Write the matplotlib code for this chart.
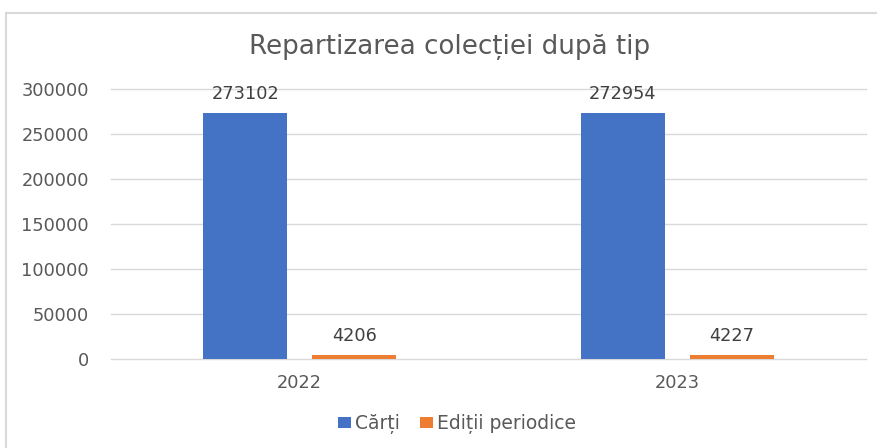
import matplotlib
matplotlib.use("Agg")
import matplotlib.pyplot as plt
from matplotlib.patches import Rectangle
import numpy as np

categories = ["2022", "2023"]
series_names = ["Cărți", "Ediții periodice"]
carti = [273102, 272954]
editii = [4206, 4227]
colors = ["#4472C4", "#ED7D31"]

plt.rcParams["font.family"] = ["DejaVu Sans"]
FS = 12.8

fig = plt.figure(figsize=(8.78, 4.48), dpi=100)
fig.patch.set_facecolor("white")
ax = fig.add_axes([111/878, 1-359/448, (866-111)/878, (359-89)/448])

x = np.arange(len(categories))
w = 0.223
off = 0.1446
b1 = ax.bar(x - off, carti, w, color=colors[0], label=series_names[0], zorder=3)
b2 = ax.bar(x + off, editii, w, color=colors[1], label=series_names[1], zorder=3)

for bars, vals in ((b1, carti), (b2, editii)):
    for r, v in zip(bars, vals):
        ax.annotate(str(v), (r.get_x() + r.get_width()/2, v), xytext=(0, 7.5),
                    textcoords="offset points", ha="center", va="bottom",
                    fontsize=FS, color="#404040")

ax.set_xlim(-0.5, 1.5)
ax.set_ylim(0, 300000)
ax.set_yticks(np.arange(0, 300001, 50000))
ax.set_yticklabels([str(v) for v in range(0, 300001, 50000)])
ax.set_xticks(x)
ax.set_xticklabels(categories)
ax.tick_params(axis="both", length=0, labelsize=FS, labelcolor="#595959")
ax.tick_params(axis="y", pad=16)
ax.tick_params(axis="x", pad=11)
ax.grid(axis="y", color="#d9d9d9", linewidth=1, zorder=0)
for gl in ax.get_ygridlines():
    gl.set_clip_on(False)
for s in ax.spines.values():
    s.set_visible(False)

fig.text(450/878, 1-47/448, "Repartizarea colecției după tip",
         ha="center", va="center", fontsize=18.8, color="#595959")

leg = fig.legend(loc="center", bbox_to_anchor=(457/878, 1-424/448), ncol=2,
                 frameon=False, fontsize=13.5, handlelength=0.7, handleheight=0.5,
                 handletextpad=0.2, columnspacing=1.1, labelcolor="#595959")

fig.patches.append(Rectangle((6/878, -0.1), 1.5, 1-13/448+0.1, transform=fig.transFigure,
                             fill=False, edgecolor="#d9d9d9", linewidth=1.5))

fig.savefig("out.png", dpi=100)
